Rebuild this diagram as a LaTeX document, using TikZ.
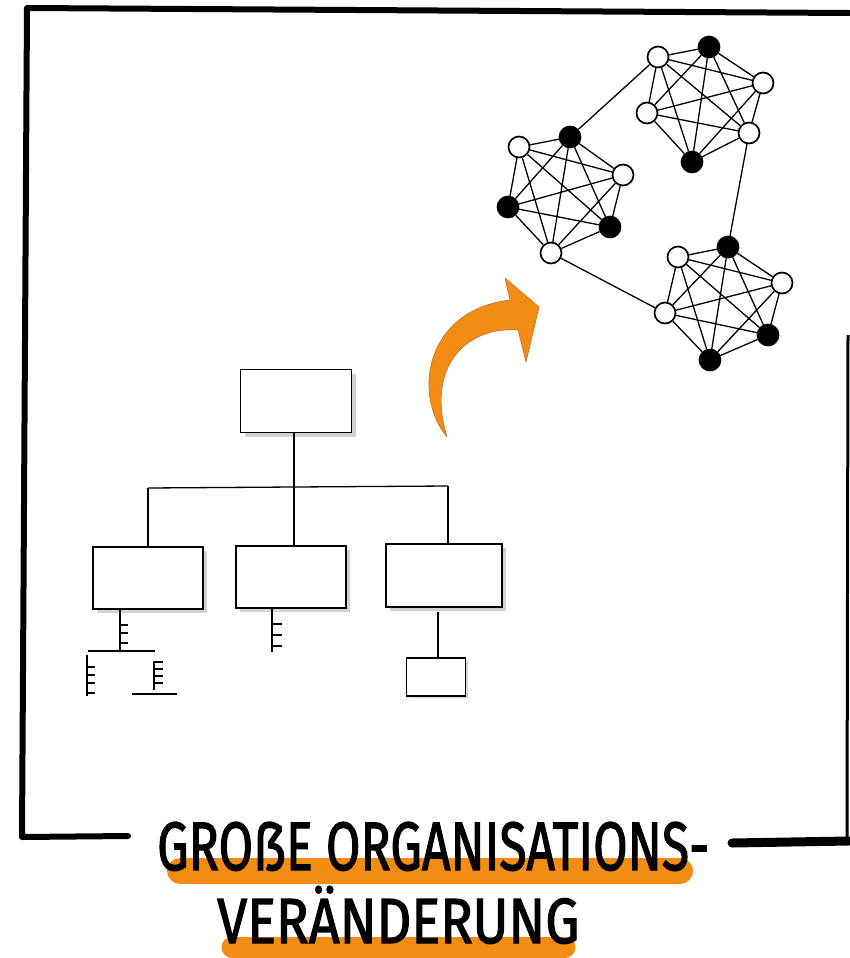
\documentclass[tikz,border=0pt]{standalone}
\usepackage{fontspec}
\usetikzlibrary{shadows}
\newfontfamily\hand{Fira Sans}[FakeBold=2]
\definecolor{hlorange}{RGB}{242,140,18}
\definecolor{arrowedge}{RGB}{200,110,40}
\tikzset{
  frameline/.style={line width=6pt, line cap=round, line join=round},
  orgbox/.style={draw, line width=1.3pt, fill=white, rectangle,
    drop shadow={shadow xshift=4pt, shadow yshift=-4pt, fill=black!22, opacity=0.8}},
  smallbox/.style={draw, line width=1.3pt, fill=white, rectangle,
    drop shadow={shadow xshift=2pt, shadow yshift=-2pt, fill=black!20, opacity=0.8}},
  orgline/.style={line width=1.3pt},
  tickline/.style={line width=2pt},
  wnode/.style={circle, draw, line width=1.7pt, fill=white, minimum size=21pt, inner sep=0pt},
  bnode/.style={circle, draw, line width=1.7pt, fill=black, minimum size=21pt, inner sep=0pt},
  netedge/.style={line width=1.3pt},
  linkedge/.style={line width=1.3pt},
  highlight/.style={line width=26pt, line cap=round, color=hlorange},
  highlightlow/.style={line width=21pt, line cap=round, color=hlorange},
  titletext/.style={inner sep=0pt, anchor=base west}
}
\begin{document}
\begin{tikzpicture}[x=1pt,y=-1pt]
\useasboundingbox (0,0) rectangle (849,958);
\fill[white] (0,0) rectangle (849,958);

% frame
\draw[frameline] (128,836) -- (22,837) -- (27,8) -- (849,13);
\draw[line width=9pt, line cap=round] (732,843) -- (849,841);
\draw[line width=3pt] (848,335) -- (847,841);

% title highlights
\draw[highlight] (180,871) -- (680,871);
\draw[highlightlow] (232,947) -- (565,947);

% title text
\node[titletext] (t1) at (157,870) {\resizebox{552pt}{48pt}{\hand GROẞE ORGANISATIONS-}};
\node[titletext] (t2) at (217,943) {\resizebox{362pt}{57pt}{\hand VERÄNDERUNG}};

% orange arrow
\draw[fill=hlorange, draw=arrowedge, line width=0.6pt, line join=round]
  (447,437) .. controls (412,395) and (425,310) .. (510,300)
  -- (505,278) -- (539,307) -- (526,362) -- (518,330)
  .. controls (468,326) and (425,365) .. (447,437) -- cycle;

% org chart
\node[orgbox, minimum width=111pt, minimum height=63pt] (top) at (296,401) {};
\node[orgbox, minimum width=110pt, minimum height=62pt] (b1) at (148,578) {};
\node[orgbox, minimum width=110pt, minimum height=62pt] (b2) at (291,577) {};
\node[orgbox, minimum width=116pt, minimum height=63pt] (b3) at (444,575.5) {};
\node[smallbox, minimum width=59pt, minimum height=38pt] (s3) at (436,677) {};

\coordinate (busL) at (148,488);
\coordinate (busC) at (294,487);
\coordinate (busR) at (448,486);
\draw[orgline] (top.south -| busC) -- (busC);
\draw[orgline] (busL) -- (busC) -- (busR);
\draw[orgline] (busL) -- (b1.north);
\draw[orgline] (busC) -- (busC |- b2.north);
\draw[orgline] (busR) -- (busR |- b3.north);

% left sub-tree
\coordinate (l1) at (120,651);
\coordinate (lL) at (88,651);
\coordinate (lR) at (155,651);
\draw[orgline] (b1.south -| l1) -- (l1);
\draw[orgline] (lL) -- (lR);
\foreach \y in {625,633,643} \draw[tickline] (120,\y) -- (128,\y);
\draw[tickline] (87,655) -- (87,696);
\foreach \y in {667,675,683,693} \draw[tickline] (87,\y) -- (95,\y);
\draw[tickline] (154,661) -- (154,690);
\foreach \y in {662,669,676,683} \draw[tickline] (154,\y) -- (163,\y);
\draw[orgline] (132,694) -- (177,694);

% middle sub-tree
\draw[tickline] (272,608) -- (272,652);
\foreach \y in {624,635,646} \draw[tickline] (272,\y) -- (282,\y);

% right sub-tree
\draw[orgline] (438,612) -- (s3.north -| 438,0);

% network cluster 1
\node[wnode] (a1) at (519,147) {};
\node[bnode] (a2) at (570,137) {};
\node[wnode] (a3) at (623,175) {};
\node[bnode] (a4) at (610,227) {};
\node[wnode] (a5) at (551,253) {};
\node[bnode] (a6) at (508,207) {};
% cluster 2
\node[wnode] (c1) at (658,57) {};
\node[bnode] (c2) at (709,47) {};
\node[wnode] (c3) at (763,83) {};
\node[wnode] (c4) at (749,133) {};
\node[bnode] (c5) at (692,162) {};
\node[wnode] (c6) at (647,113) {};
% cluster 3
\node[bnode] (d1) at (728,247) {};
\node[wnode] (d2) at (678,257) {};
\node[wnode] (d3) at (782,283) {};
\node[bnode] (d4) at (768,335) {};
\node[bnode] (d5) at (710,360) {};
\node[wnode] (d6) at (665,313) {};

\foreach \p in {a,c,d}{
  \foreach \i in {1,...,6}{
    \foreach \j in {1,...,6}{
      \ifnum\i<\j \draw[netedge] (\p\i) -- (\p\j); \fi
    }
  }
}
\draw[linkedge] (a2) -- (c1);
\draw[linkedge] (c4) -- (d1);
\draw[linkedge] (a5) -- (d6);
\end{tikzpicture}
\end{document}
